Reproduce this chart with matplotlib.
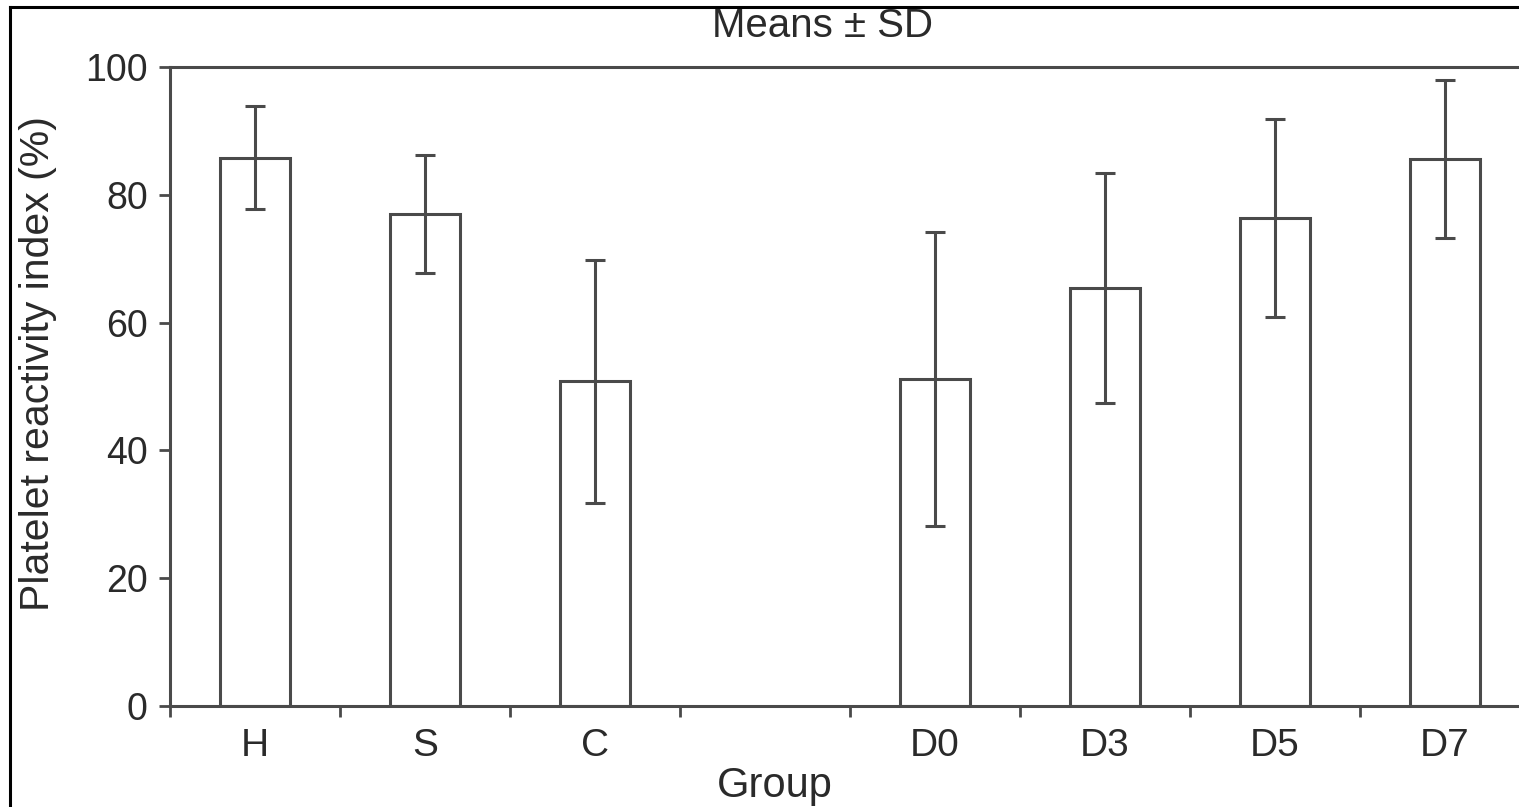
import matplotlib
matplotlib.use("Agg")
import matplotlib.pyplot as plt
from matplotlib.lines import Line2D

# Values
groups = ["H", "S", "C", "D0", "D3", "D5", "D7"]
positions = [0, 1, 2, 4, 5, 6, 7]  # slot 3 is left empty
means = [85.8, 77.0, 50.8, 51.2, 65.4, 76.4, 85.6]
sds = [8.1, 9.3, 19.0, 23.0, 18.0, 15.5, 12.4]

plt.rcParams['font.family'] = ['Liberation Sans', 'DejaVu Sans']
line_col = '#4a4a4a'
text_col = '#2a2a2a'

fig = plt.figure(figsize=(15.19, 8.07), dpi=100)
ax = fig.add_axes([170 / 1519, 1 - 706 / 807, 1 - 170 / 1519, (706 - 67) / 807])

ax.bar(positions, means, width=0.41, color='white', edgecolor=line_col,
       linewidth=2.2, zorder=2)
ax.errorbar(positions, means, yerr=sds, fmt='none', ecolor=line_col,
            elinewidth=2.2, capsize=7, capthick=2.2, zorder=3)

ax.set_xlim(-0.5, -0.5 + (1519 - 170) / 170)
ax.set_ylim(0, 100)

ax.set_xticks(positions)
ax.set_xticklabels(groups)
ax.set_xticks([x - 0.5 for x in range(8)], minor=True)
ax.set_yticks(range(0, 101, 20))

ax.tick_params(axis='x', which='major', length=0, pad=16,
               labelsize=28, labelcolor=text_col)
ax.tick_params(axis='x', which='minor', length=8, width=2, color=line_col,
               direction='out')
ax.tick_params(axis='y', length=8, width=2, color=line_col, pad=8,
               labelsize=27, labelcolor=text_col)

for side in ['left', 'bottom', 'top']:
    ax.spines[side].set_color(line_col)
    ax.spines[side].set_linewidth(2.2)
ax.spines['right'].set_visible(False)

# Titles and labels placed on the figure
fig.text(822 / 1519, 1 - 37 / 807, "Means \u00b1 SD", ha='center', va='baseline',
         fontsize=29, color=text_col)
fig.text(775 / 1519, 1 - 797 / 807, "Group", ha='center', va='baseline',
         fontsize=30, color=text_col)
fig.text(38 / 1519, 1 - 364 / 807, "Platelet reactivity index (%)", rotation=90,
         ha='center', va='center', fontsize=29.5, color=text_col)

# Frame lines on the left and top of the image
fig.add_artist(Line2D([10 / 1519, 10 / 1519], [0, 1 - 7 / 807], color='black',
                      linewidth=2.2, transform=fig.transFigure))
fig.add_artist(Line2D([10 / 1519, 1], [1 - 7 / 807, 1 - 7 / 807], color='black',
                      linewidth=2.2, transform=fig.transFigure))

fig.savefig("out.png", dpi=100)
